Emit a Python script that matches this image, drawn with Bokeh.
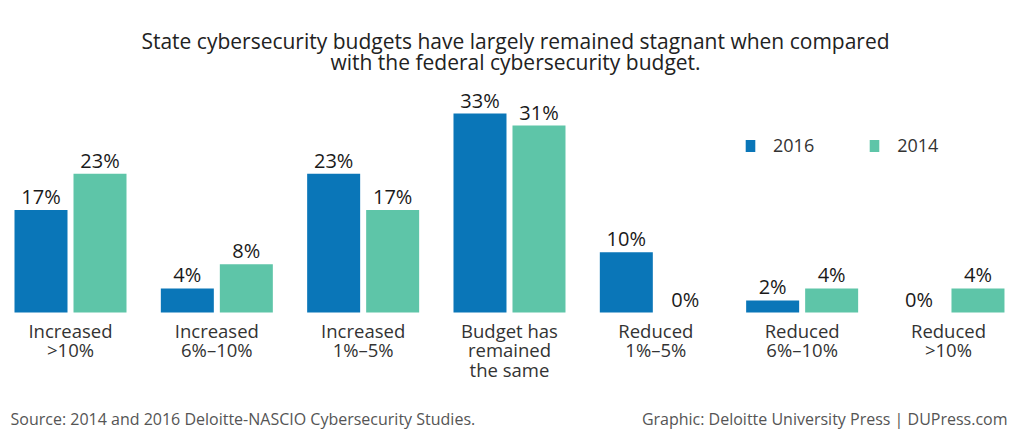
from bokeh.plotting import figure
from bokeh.models import Range1d, ColumnDataSource, Label, Legend, LegendItem
from bokeh.core.properties import value
from bokeh.embed import file_html
from bokeh.resources import INLINE

# ---- data ----
categories = ["Increased\n>10%", "Increased\n6%\u201310%", "Increased\n1%\u20135%",
              "Budget has\nremained\nthe same", "Reduced\n1%\u20135%",
              "Reduced\n6%\u201310%", "Reduced\n>10%"]
values_2016 = [17, 4, 23, 33, 10, 2, 0]
values_2014 = [23, 8, 17, 31, 0, 4, 4]
series_names = ["2016", "2014"]

title_lines = ["State cybersecurity budgets have largely remained stagnant when compared",
               "with the federal cybersecurity budget."]
source_text = "Source: 2014 and 2016 Deloitte-NASCIO Cybersecurity Studies."
credit_text = "Graphic: Deloitte University Press | DUPress.com"

BLUE = "#0a76b8"
TEAL = "#5ec5a8"
FONT = "Open Sans"

W, H = 1010, 432
# pixel <-> data helpers for layout
GROUP_PX = 146.33
X0_PX = 70.0
BASE_PX = 312.0
PX_PER_UNIT = 6.03


def dx(px):
    return (px - X0_PX) / GROUP_PX


def dy(py):
    return (BASE_PX - py) / PX_PER_UNIT


p = figure(width=W, height=H, output_backend="svg", toolbar_location=None,
           x_range=Range1d(dx(0), dx(W)), y_range=Range1d(dy(H), dy(0)),
           x_axis_location=None, y_axis_location=None, min_border=0)
p.grid.visible = False
p.outline_line_color = None
p.background_fill_color = "white"
p.border_fill_color = "white"

idx = list(range(len(categories)))
bar_w = 53 / GROUP_PX
off = 29.5 / GROUP_PX

src = ColumnDataSource(dict(
    x16=[i - off for i in idx], x14=[i + off for i in idx],
    v16=values_2016, v14=values_2014,
    t16=[f"{v}%" for v in values_2016], t14=[f"{v}%" for v in values_2014],
    xc=idx, y0=[0] * len(idx), cat=categories,
))

r16 = p.vbar(x="x16", top="v16", width=bar_w, source=src, color=BLUE, line_color=None)
r14 = p.vbar(x="x14", top="v14", width=bar_w, source=src, color=TEAL, line_color=None)

for xcol, vcol, tcol in (("x16", "v16", "t16"), ("x14", "v14", "t14")):
    p.text(x=xcol, y=vcol, text=tcol, source=src, text_align="center",
           text_baseline="bottom", y_offset=0,
           text_font=value(FONT), text_font_size="20px", text_color="#1a1a1a")

p.text(x="xc", y="y0", text="cat", source=src, text_align="center",
       text_baseline="top", y_offset=5, text_line_height=0.78,
       text_font=value(FONT), text_font_size="18.5px", text_color="#333333")

# title
for i, line in enumerate(title_lines):
    p.add_layout(Label(x=dx(515), y=dy(40 + 21 * i), text=line, text_align="center",
                       text_baseline="middle", text_font=FONT, text_font_size="21px",
                       text_color="#222222"))

# footer
p.add_layout(Label(x=dx(10), y=dy(418), text=source_text, text_align="left",
                   text_baseline="middle", text_font=FONT, text_font_size="16px",
                   text_color="#555555"))
p.add_layout(Label(x=dx(1007), y=dy(418), text=credit_text, text_align="right",
                   text_baseline="middle", text_font=FONT, text_font_size="16px",
                   text_color="#555555"))

legend = Legend(items=[LegendItem(label=series_names[0], renderers=[r16]),
                       LegendItem(label=series_names[1], renderers=[r14])],
                orientation="horizontal", location=(744, H - 157),
                glyph_width=12, glyph_height=15, label_standoff=17, spacing=54,
                padding=0, margin=0, border_line_color=None, background_fill_alpha=0,
                label_text_font=FONT, label_text_font_size="18px",
                label_text_color="#333333", label_height=15)
p.add_layout(legend)

open("out.html", "w").write(file_html(p, INLINE))
